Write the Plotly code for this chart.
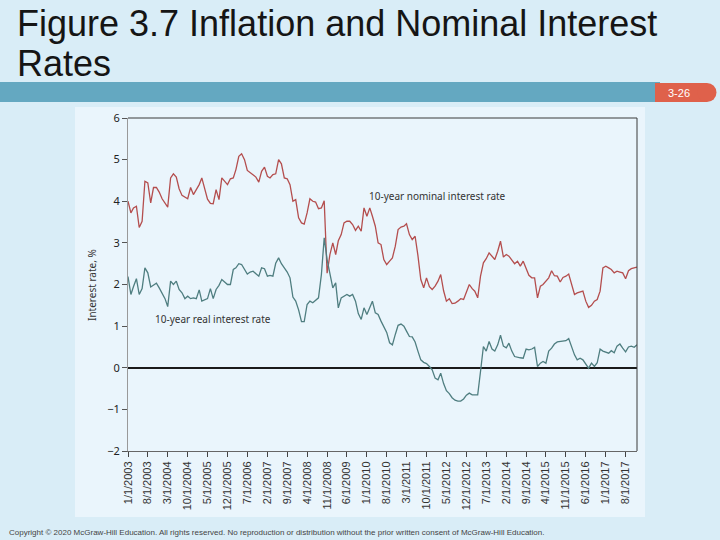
import plotly.graph_objects as go

# ---------------- data (monthly, Jan 2003 - Dec 2017) ----------------
nominal_rate = [
    4.00, 3.72, 3.84, 3.88, 3.37, 3.52, 4.48, 4.44, 3.96, 4.33, 4.33, 4.22,  # 2003
    4.06, 3.95, 3.86, 4.56, 4.66, 4.58, 4.30, 4.14, 4.10, 4.06, 4.33, 4.16,  # 2004
    4.28, 4.40, 4.56, 4.30, 4.05, 3.95, 3.94, 4.28, 4.04, 4.56, 4.48, 4.40,  # 2005
    4.54, 4.56, 4.76, 5.08, 5.14, 5.00, 4.74, 4.68, 4.62, 4.58, 4.46, 4.72,  # 2006
    4.82, 4.60, 4.56, 4.64, 4.66, 5.00, 4.90, 4.56, 4.54, 4.40, 4.00, 4.04,  # 2007
    3.60, 3.48, 3.45, 3.72, 4.06, 4.00, 3.98, 3.82, 3.84, 4.01, 2.27, 2.72,  # 2008
    3.00, 2.72, 3.05, 3.20, 3.48, 3.52, 3.52, 3.44, 3.30, 3.40, 3.28, 3.84,  # 2009
    3.64, 3.84, 3.64, 3.40, 3.00, 2.96, 2.60, 2.48, 2.56, 2.64, 2.92, 3.32,  # 2010
    3.38, 3.40, 3.46, 3.20, 3.08, 3.16, 2.70, 2.12, 1.92, 2.16, 1.95, 1.88,  # 2011
    1.96, 2.08, 2.24, 1.85, 1.60, 1.66, 1.54, 1.55, 1.60, 1.66, 1.64, 1.80,  # 2012
    2.00, 1.90, 1.84, 1.68, 2.20, 2.52, 2.62, 2.76, 2.68, 2.60, 2.80, 3.04,  # 2013
    2.66, 2.72, 2.68, 2.60, 2.50, 2.56, 2.44, 2.56, 2.36, 2.22, 2.16, 2.16,  # 2014
    1.68, 1.96, 2.00, 2.09, 2.16, 2.33, 2.21, 2.20, 2.06, 2.17, 2.20, 2.25,  # 2015
    2.00, 1.76, 1.80, 1.83, 1.84, 1.60, 1.45, 1.50, 1.60, 1.64, 1.84, 2.40,  # 2016
    2.44, 2.40, 2.36, 2.28, 2.32, 2.30, 2.28, 2.14, 2.33, 2.38, 2.40, 2.42,  # 2017
]

real_rate = [
    2.19, 1.76, 1.95, 2.14, 1.76, 1.90, 2.40, 2.28, 1.94, 1.98, 2.03, 1.92,  # 2003
    1.80, 1.66, 1.47, 2.08, 2.00, 2.08, 1.88, 1.80, 1.66, 1.72, 1.66, 1.68,  # 2004
    1.66, 1.87, 1.60, 1.64, 1.66, 1.90, 1.66, 1.88, 1.98, 2.12, 2.05, 2.00,  # 2005
    2.00, 2.36, 2.40, 2.50, 2.48, 2.36, 2.25, 2.30, 2.32, 2.26, 2.20, 2.40,  # 2006
    2.38, 2.20, 2.22, 2.20, 2.51, 2.64, 2.50, 2.40, 2.30, 2.16, 1.70, 1.60,  # 2007
    1.39, 1.11, 1.11, 1.52, 1.60, 1.56, 1.62, 1.68, 2.24, 3.12, 2.60, 2.24,  # 2008
    1.92, 2.04, 1.44, 1.68, 1.72, 1.76, 1.72, 1.76, 1.60, 1.30, 1.16, 1.44,  # 2009
    1.28, 1.45, 1.60, 1.32, 1.28, 1.12, 1.00, 0.85, 0.60, 0.55, 0.80, 1.02,  # 2010
    1.05, 1.00, 0.88, 0.75, 0.74, 0.62, 0.40, 0.19, 0.13, 0.10, 0.03, -0.05,  # 2011
    -0.25, -0.29, -0.13, -0.38, -0.55, -0.62, -0.72, -0.78, -0.80, -0.80, -0.75, -0.66,  # 2012
    -0.61, -0.65, -0.65, -0.65, -0.09, 0.51, 0.40, 0.63, 0.45, 0.40, 0.55, 0.78,  # 2013
    0.52, 0.48, 0.59, 0.40, 0.27, 0.25, 0.24, 0.23, 0.45, 0.43, 0.45, 0.49,  # 2014
    0.03, 0.11, 0.15, 0.11, 0.40, 0.47, 0.57, 0.62, 0.63, 0.63, 0.65, 0.70,  # 2015
    0.51, 0.31, 0.19, 0.23, 0.19, 0.08, -0.01, 0.11, 0.03, 0.12, 0.45, 0.40,  # 2016
    0.37, 0.35, 0.41, 0.36, 0.52, 0.57, 0.47, 0.38, 0.50, 0.52, 0.49, 0.55,  # 2017
]

dates = [f"{2003 + i // 12}-{i % 12 + 1:02d}-01" for i in range(len(nominal_rate))]

tick_labels = [
    "1/1/2003", "8/1/2003", "3/1/2004", "10/1/2004", "5/1/2005", "12/1/2005",
    "7/1/2006", "2/1/2007", "9/1/2007", "4/1/2008", "11/1/2008", "6/1/2009",
    "1/1/2010", "8/1/2010", "3/1/2011", "10/1/2011", "5/1/2012", "12/1/2012",
    "7/1/2013", "2/1/2014", "9/1/2014", "4/1/2015", "11/1/2015", "6/1/2016",
    "1/1/2017", "8/1/2017",
]
tick_dates = []
for lab in tick_labels:
    mo, d, yr = lab.split("/")
    tick_dates.append(f"{yr}-{int(mo):02d}-{int(d):02d}")

title_line1 = "Figure 3.7 Inflation and Nominal Interest"
title_line2 = "Rates"
nominal_label = "10-year nominal interest rate"
real_label = "10-year real interest rate"
y_title = "Interest rate, %"
slide_no = "3-26"
copyright_text = ("Copyright © 2020 McGraw-Hill Education. All rights reserved. No reproduction or "
                  "distribution without the prior written consent of McGraw-Hill Education.")

# ---------------- layout helpers (pixel -> paper) ----------------
L, R, T, B = 128, 637, 118, 451
W, H = 720, 540


def px(p):
    return (p - L) / (R - L)


def py(p):
    return (B - p) / (B - T)


SLIDE_BG = "#d9edf7"
CHART_BG = "#eaf5fc"
RED = "#b44e4e"
TEAL = "#4f7e80"

fig = go.Figure()
fig.add_trace(go.Scatter(x=dates, y=nominal_rate, mode="lines",
                         line=dict(color=RED, width=1.3), name=nominal_label,
                         showlegend=False))
fig.add_trace(go.Scatter(x=dates, y=real_rate, mode="lines",
                         line=dict(color=TEAL, width=1.3), name=real_label,
                         showlegend=False))

shapes = [
    # chart picture background
    dict(type="rect", xref="paper", yref="paper", x0=px(75), x1=px(645), y0=py(517), y1=py(107),
         fillcolor=CHART_BG, line=dict(width=0), layer="below"),
    # header bar
    dict(type="rect", xref="paper", yref="paper", x0=px(0), x1=px(660), y0=py(102), y1=py(82),
         fillcolor="#64a8c1", line=dict(width=0), layer="below"),
    # slide number tab
    dict(type="rect", xref="paper", yref="paper", x0=px(655), x1=px(707), y0=py(102), y1=py(83),
         fillcolor="#df614b", line=dict(width=0), layer="below"),
    dict(type="circle", xref="paper", yref="paper", x0=px(697.5), x1=px(716.5), y0=py(102), y1=py(83),
         fillcolor="#df614b", line=dict(width=0), layer="below"),
    # top and right frame
    dict(type="line", xref="paper", yref="paper", x0=0, x1=1, y0=1, y1=1,
         line=dict(color="#3a3a3a", width=1)),
    dict(type="line", xref="paper", yref="paper", x0=1, x1=1, y0=0, y1=1,
         line=dict(color="#3a3a3a", width=1)),
]

annotations = [
    dict(text=title_line1, xref="paper", yref="paper", x=px(15), y=py(23), xanchor="left", yanchor="middle",
         showarrow=False, font=dict(family="Liberation Sans, Arial", size=36, color="#151515")),
    dict(text=title_line2, xref="paper", yref="paper", x=px(15), y=py(63), xanchor="left", yanchor="middle",
         showarrow=False, font=dict(family="Liberation Sans, Arial", size=36, color="#151515")),
    dict(text=slide_no, xref="paper", yref="paper", x=px(679), y=py(93), xanchor="center", yanchor="middle",
         showarrow=False, font=dict(family="Liberation Sans, Arial", size=11, color="white")),
    dict(text=copyright_text, xref="paper", yref="paper", x=px(7), y=py(532), xanchor="left", yanchor="middle",
         showarrow=False, font=dict(family="Liberation Sans, Arial", size=8, color="#444444")),
    dict(text=nominal_label, xref="paper", yref="paper", x=px(367), y=py(196), xanchor="left", yanchor="middle",
         showarrow=False, font=dict(family="Noto Sans", size=10, color="#333333")),
    dict(text=real_label, xref="paper", yref="paper", x=px(153), y=py(319), xanchor="left", yanchor="middle",
         showarrow=False, font=dict(family="Noto Sans", size=10, color="#333333")),
    dict(text=y_title, xref="paper", yref="paper", x=px(92), y=py(285), xanchor="center", yanchor="middle",
         textangle=-90, showarrow=False, font=dict(family="Noto Sans", size=10, color="#333333")),
]

fig.update_layout(
    width=W, height=H, autosize=False,
    margin=dict(l=L, r=W - R, t=T, b=H - B, pad=0),
    paper_bgcolor=SLIDE_BG, plot_bgcolor=CHART_BG,
    shapes=shapes, annotations=annotations, showlegend=False,
)

fig.update_xaxes(
    type="date", range=[dates[0], dates[-1]],
    tickmode="array", tickvals=tick_dates, ticktext=tick_labels,
    tickangle=-90, ticks="outside", ticklen=5, tickcolor="#444444",
    tickfont=dict(family="Liberation Sans, Arial", size=11, color="#333333"),
    showgrid=False, showline=True, linecolor="#666666", linewidth=1, zeroline=False,
)
fig.update_yaxes(
    range=[-2, 6], tickmode="linear", tick0=-2, dtick=1,
    ticks="outside", ticklen=5, tickcolor="#555555",
    tickfont=dict(family="Noto Sans", size=11, color="#222222"),
    showgrid=False, showline=True, linecolor="#999999", linewidth=1,
    zeroline=True, zerolinecolor="#1a1a1a", zerolinewidth=1.5,
)

fig.write_html(
    "out.html",
    config={"displayModeBar": False},
    post_script="document.body.style.margin='0';document.body.style.padding='0';"
                "document.body.style.overflow='hidden';",
)
